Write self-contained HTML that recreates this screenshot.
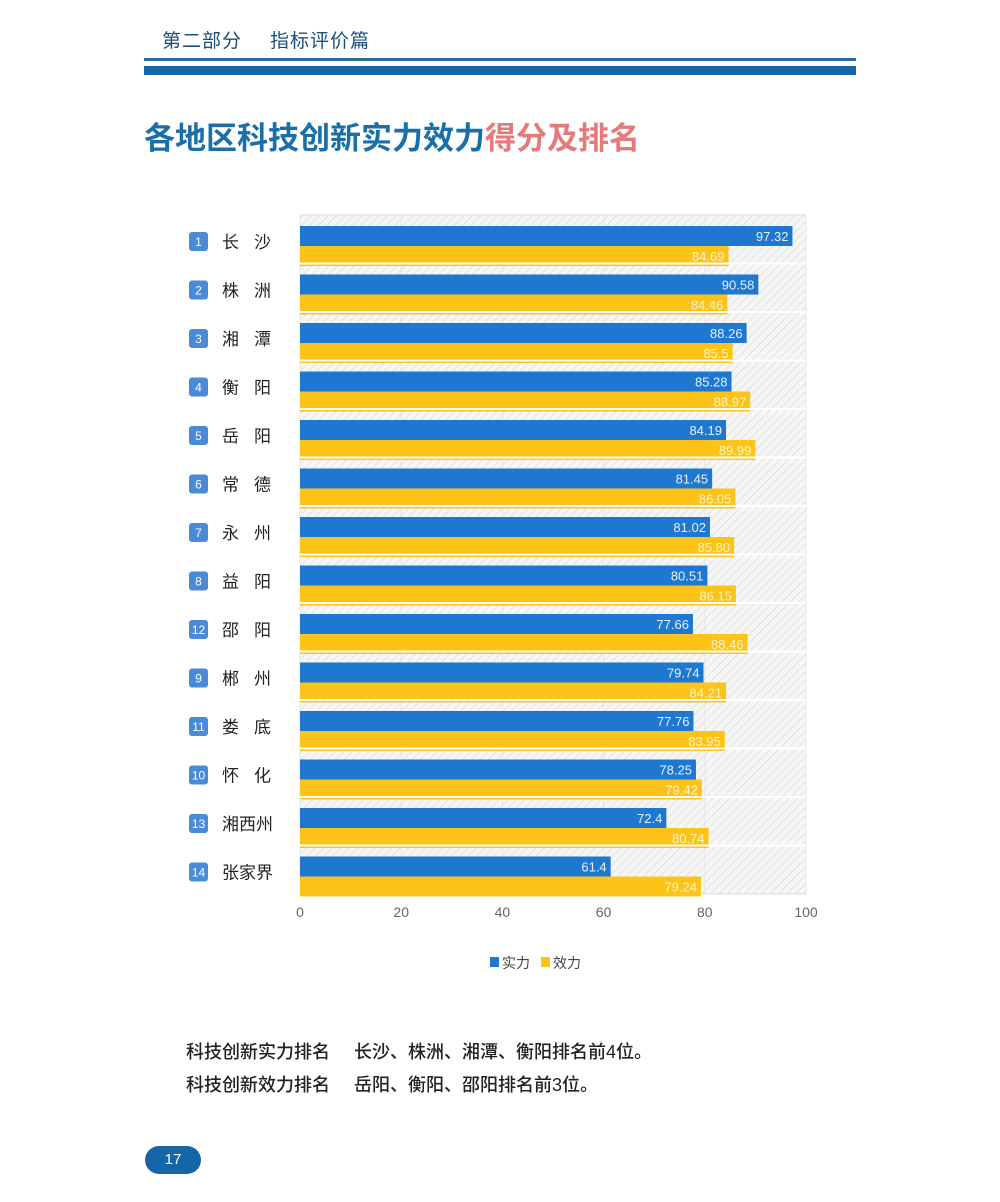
<!DOCTYPE html>
<html><head><meta charset="utf-8"><style>
body{margin:0;width:1000px;height:1202px;background:#fff;position:relative;overflow:hidden;font-family:"Liberation Sans","Noto Sans CJK SC",sans-serif}
.abs{position:absolute}
</style></head><body>
<div class="abs" style="left:162px;top:26px;font-size:19px;color:#1b4f7a;letter-spacing:1px">第二部分<span style="margin-left:28px">指标评价篇</span></div>
<div class="abs" style="left:144px;top:58px;width:712px;height:3px;background:#2a6a9a"></div>
<div class="abs" style="left:144px;top:66px;width:712px;height:9px;background:#1565a8"></div>
<div class="abs" style="left:144px;top:113px;font-size:31px;font-weight:bold;color:#1b6fa8">各地区科技创新实力效力<span style="color:#e57a7a">得分及排名</span></div>
<svg class="abs" style="left:0;top:0" width="1000" height="1202" id="chart">
<defs><pattern id="hatch" width="6" height="6" patternUnits="userSpaceOnUse" patternTransform="rotate(45)"><rect width="6" height="6" fill="#f6f6f6"/><line x1="0" y1="0" x2="0" y2="6" stroke="#e2e2e2" stroke-width="2"/></pattern></defs>
<g id="g"></g>
</svg>
<div class="abs" style="left:186px;top:1038px;font-size:18px;color:#222;font-weight:500">科技创新实力排名<span style="margin-left:24px">长沙、株洲、湘潭、衡阳排名前4位。</span></div>
<div class="abs" style="left:186px;top:1071px;font-size:18px;color:#222;font-weight:500">科技创新效力排名<span style="margin-left:24px">岳阳、衡阳、邵阳排名前3位。</span></div>
<div class="abs" style="left:145px;top:1146px;width:56px;height:28px;border-radius:14px;background:#1565a8;color:#fff;font-size:15px;text-align:center;line-height:28px">17</div>
<script>
const categories=["长沙","株洲","湘潭","衡阳","岳阳","常德","永州","益阳","邵阳","郴州","娄底","怀化","湘西州","张家界"];
const ranks=["1","2","3","4","5","6","7","8","12","9","11","10","13","14"];
const strength=[97.32,90.58,88.26,85.28,84.19,81.45,81.02,80.51,77.66,79.74,77.76,78.25,72.4,61.4];
const efficiency=[84.69,84.46,85.5,88.97,89.99,86.05,85.80,86.15,88.46,84.21,83.95,79.42,80.74,79.24];
const effLabels=["84.69","84.46","85.5","88.97","89.99","86.05","85.80","86.15","88.46","84.21","83.95","79.42","80.74","79.24"];
const ticks=[0,20,40,60,80,100];
const L=300,R=806,T=215,B=894;
const xs=v=>L+(R-L)*v/100;
const rowH=(B-T)/categories.length;
const ns="http://www.w3.org/2000/svg";
const g=document.getElementById('g');
function mk(t,a,p){const e=document.createElementNS(ns,t);for(const k in a)e.setAttribute(k,a[k]);(p||g).appendChild(e);return e;}
const bg=mk('rect',{x:L,y:T,width:R-L,height:B-T,fill:'url(#hatch)',stroke:'#ddd'});


ticks.forEach(t=>{
 const l=mk('line',{x1:xs(t),x2:xs(t),y1:T,y2:B,stroke:'#e4e4e4'});
 
 
 const tx=mk('text',{x:xs(t),y:B+23,'text-anchor':'middle','font-size':14,fill:'#666'});
 tx.textContent=t;
 
 
});
categories.forEach((c,i)=>{
 const y0=T+i*rowH;
 if(i>0){const s=mk('line',{x1:L,x2:R,y1:y0,y2:y0,stroke:'#fff','stroke-width':2});
 
 }
 const b1=mk('rect',{x:L,y:y0+11,width:xs(strength[i])-L,height:20,fill:'#1f78cf'});
 
 
 const b2=mk('rect',{x:L,y:y0+31,width:xs(efficiency[i])-L,height:20,fill:'#fcc419'});
 
 
 const v1=mk('text',{x:xs(strength[i])-4,y:y0+26,'text-anchor':'end','font-size':13,fill:'#e8f0ff'});
 v1.textContent=strength[i];
 
 
 const v2=mk('text',{x:xs(efficiency[i])-4,y:y0+46,'text-anchor':'end','font-size':13,fill:'#fff3c8'});
 v2.textContent=effLabels[i];
 
 
 const bx=mk('rect',{x:189,y:y0+17,width:19,height:19,rx:3,fill:'#4a8ad8'});
 
 
 const rt=mk('text',{x:198.5,y:y0+31,'text-anchor':'middle','font-size':12,fill:'#fff'});
 rt.textContent=ranks[i];
 
 
 const ct=mk('text',{x:222,y:y0+33,'font-size':17,fill:'#222','letter-spacing':c.length===2?'15':'0'});
 ct.textContent=c;
 
 
});
const lg=[['#1f78cf','实力',490],['#fcc419','效力',541]];
lg.forEach(([c,t,x])=>{
 const r=mk('rect',{x:x,y:957,width:9,height:10,fill:c});
 
 
 const tx=mk('text',{x:x+12,y:968,'font-size':14,fill:'#444'});
 tx.textContent=t;
 
 
});
</script>
</body></html>
